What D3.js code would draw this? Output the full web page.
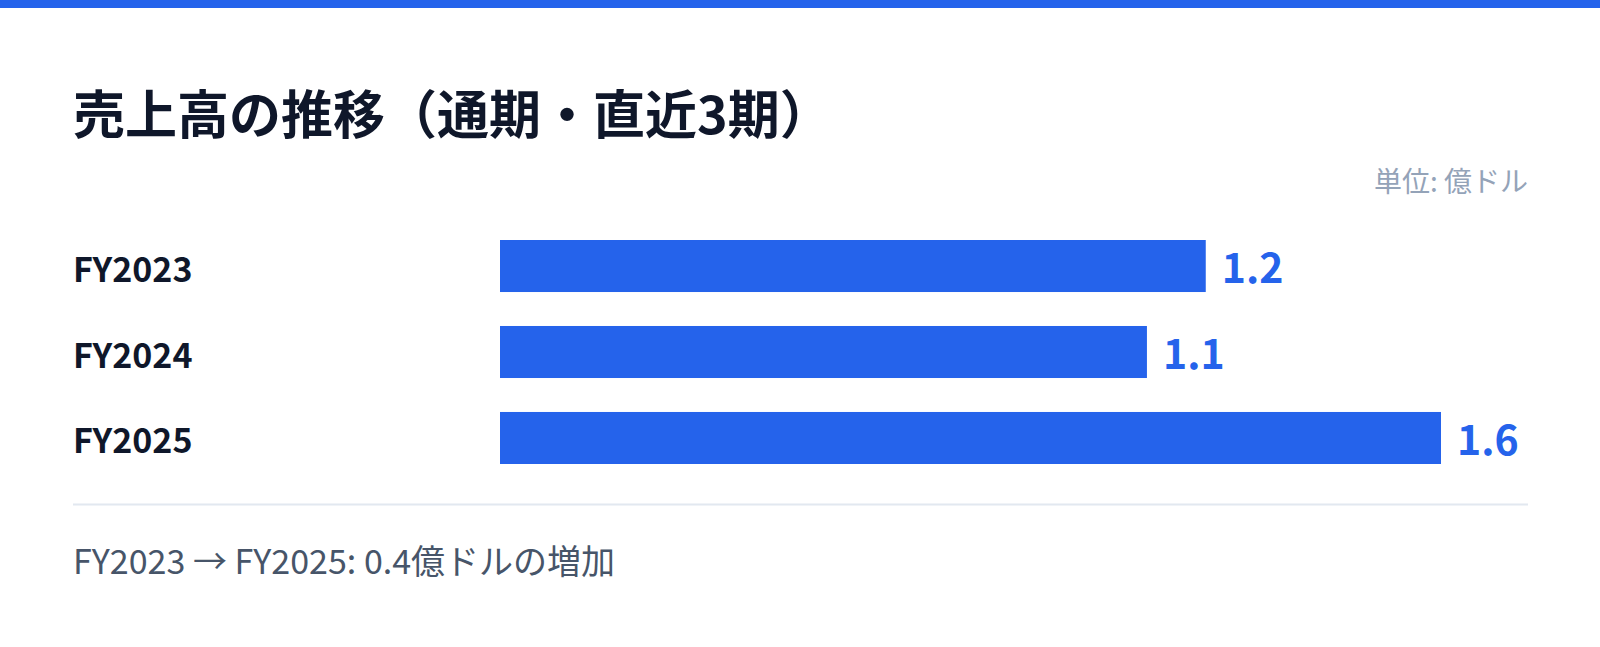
<!DOCTYPE html>
<html>
<head>
<meta charset="utf-8">
<script src="https://cdn.jsdelivr.net/npm/d3@7"></script>
<style>
  body { margin: 0; background: #fff; }
  svg { display: block; }
</style>
</head>
<body>
<div class="chart"></div>
<script>
var years = ["FY2023", "FY2024", "FY2025"];
var sales = [1.2, 1.1, 1.6];
var valueLabels = ["1.2", "1.1", "1.6"];

var svgWidth = 1600;
var svgHeight = 647;
var blue = "#2563eb";

var svg = d3.select(".chart")
    .append("svg")
    .attr("width", svgWidth)
    .attr("height", svgHeight);

// top accent strip
svg.append("rect")
    .attr("x", 0).attr("y", 0)
    .attr("width", svgWidth).attr("height", 8)
    .attr("fill", blue);

// title
svg.append("text")
    .attr("x", 73).attr("y", 134)
    .attr("font-family", "'Noto Sans CJK JP', sans-serif")
    .attr("font-weight", 700)
    .attr("font-size", "52px")
    .attr("fill", "#0f172a")
    .text("売上高の推移（通期・直近3期）");

// unit
svg.append("text")
    .attr("x", 1528).attr("y", 192)
    .attr("text-anchor", "end")
    .attr("font-family", "'Noto Sans CJK JP', sans-serif")
    .attr("font-size", "28px")
    .attr("fill", "#94a3b8")
    .text("単位: 億ドル");

// scales
var x = d3.scaleLinear()
    .domain([0, d3.max(sales)])
    .range([500, 1441]);

var y = d3.scaleBand()
    .domain(years)
    .range([240, 464])
    .paddingInner(0.395)
    .paddingOuter(0);

var rows = svg.append("g").selectAll("g")
    .data(years)
    .join("g");

rows.append("rect")
    .attr("x", x(0))
    .attr("y", d => y(d))
    .attr("width", (d, i) => x(sales[i]) - x(0))
    .attr("height", y.bandwidth())
    .attr("fill", blue);

rows.append("text")
    .attr("x", 73)
    .attr("y", d => y(d) + y.bandwidth() / 2 + 15.5)
    .attr("font-family", "'Noto Sans CJK JP', sans-serif")
    .attr("font-weight", 700)
    .attr("font-size", "34px")
    .attr("fill", "#0f172a")
    .text(d => d);

rows.append("text")
    .attr("x", (d, i) => x(sales[i]) + 16)
    .attr("y", d => y(d) + y.bandwidth() / 2 + 17)
    .attr("font-family", "'Noto Sans CJK JP', sans-serif")
    .attr("font-weight", 700)
    .attr("font-size", "41px")
    .attr("fill", blue)
    .text((d, i) => valueLabels[i]);

// divider
svg.append("line")
    .attr("x1", 73).attr("x2", 1528)
    .attr("y1", 504.5).attr("y2", 504.5)
    .attr("stroke", "#e2e8f0")
    .attr("stroke-width", 2);

// footer note
var diff = d3.format(".1f")(sales[2] - sales[0]);
svg.append("text")
    .attr("x", 73).attr("y", 574)
    .attr("font-family", "'Noto Sans CJK JP', sans-serif")
    .attr("font-size", "34px")
    .attr("fill", "#475569")
    .text(years[0] + " → " + years[2] + ": " + diff + "億ドルの増加");
</script>
</body>
</html>
